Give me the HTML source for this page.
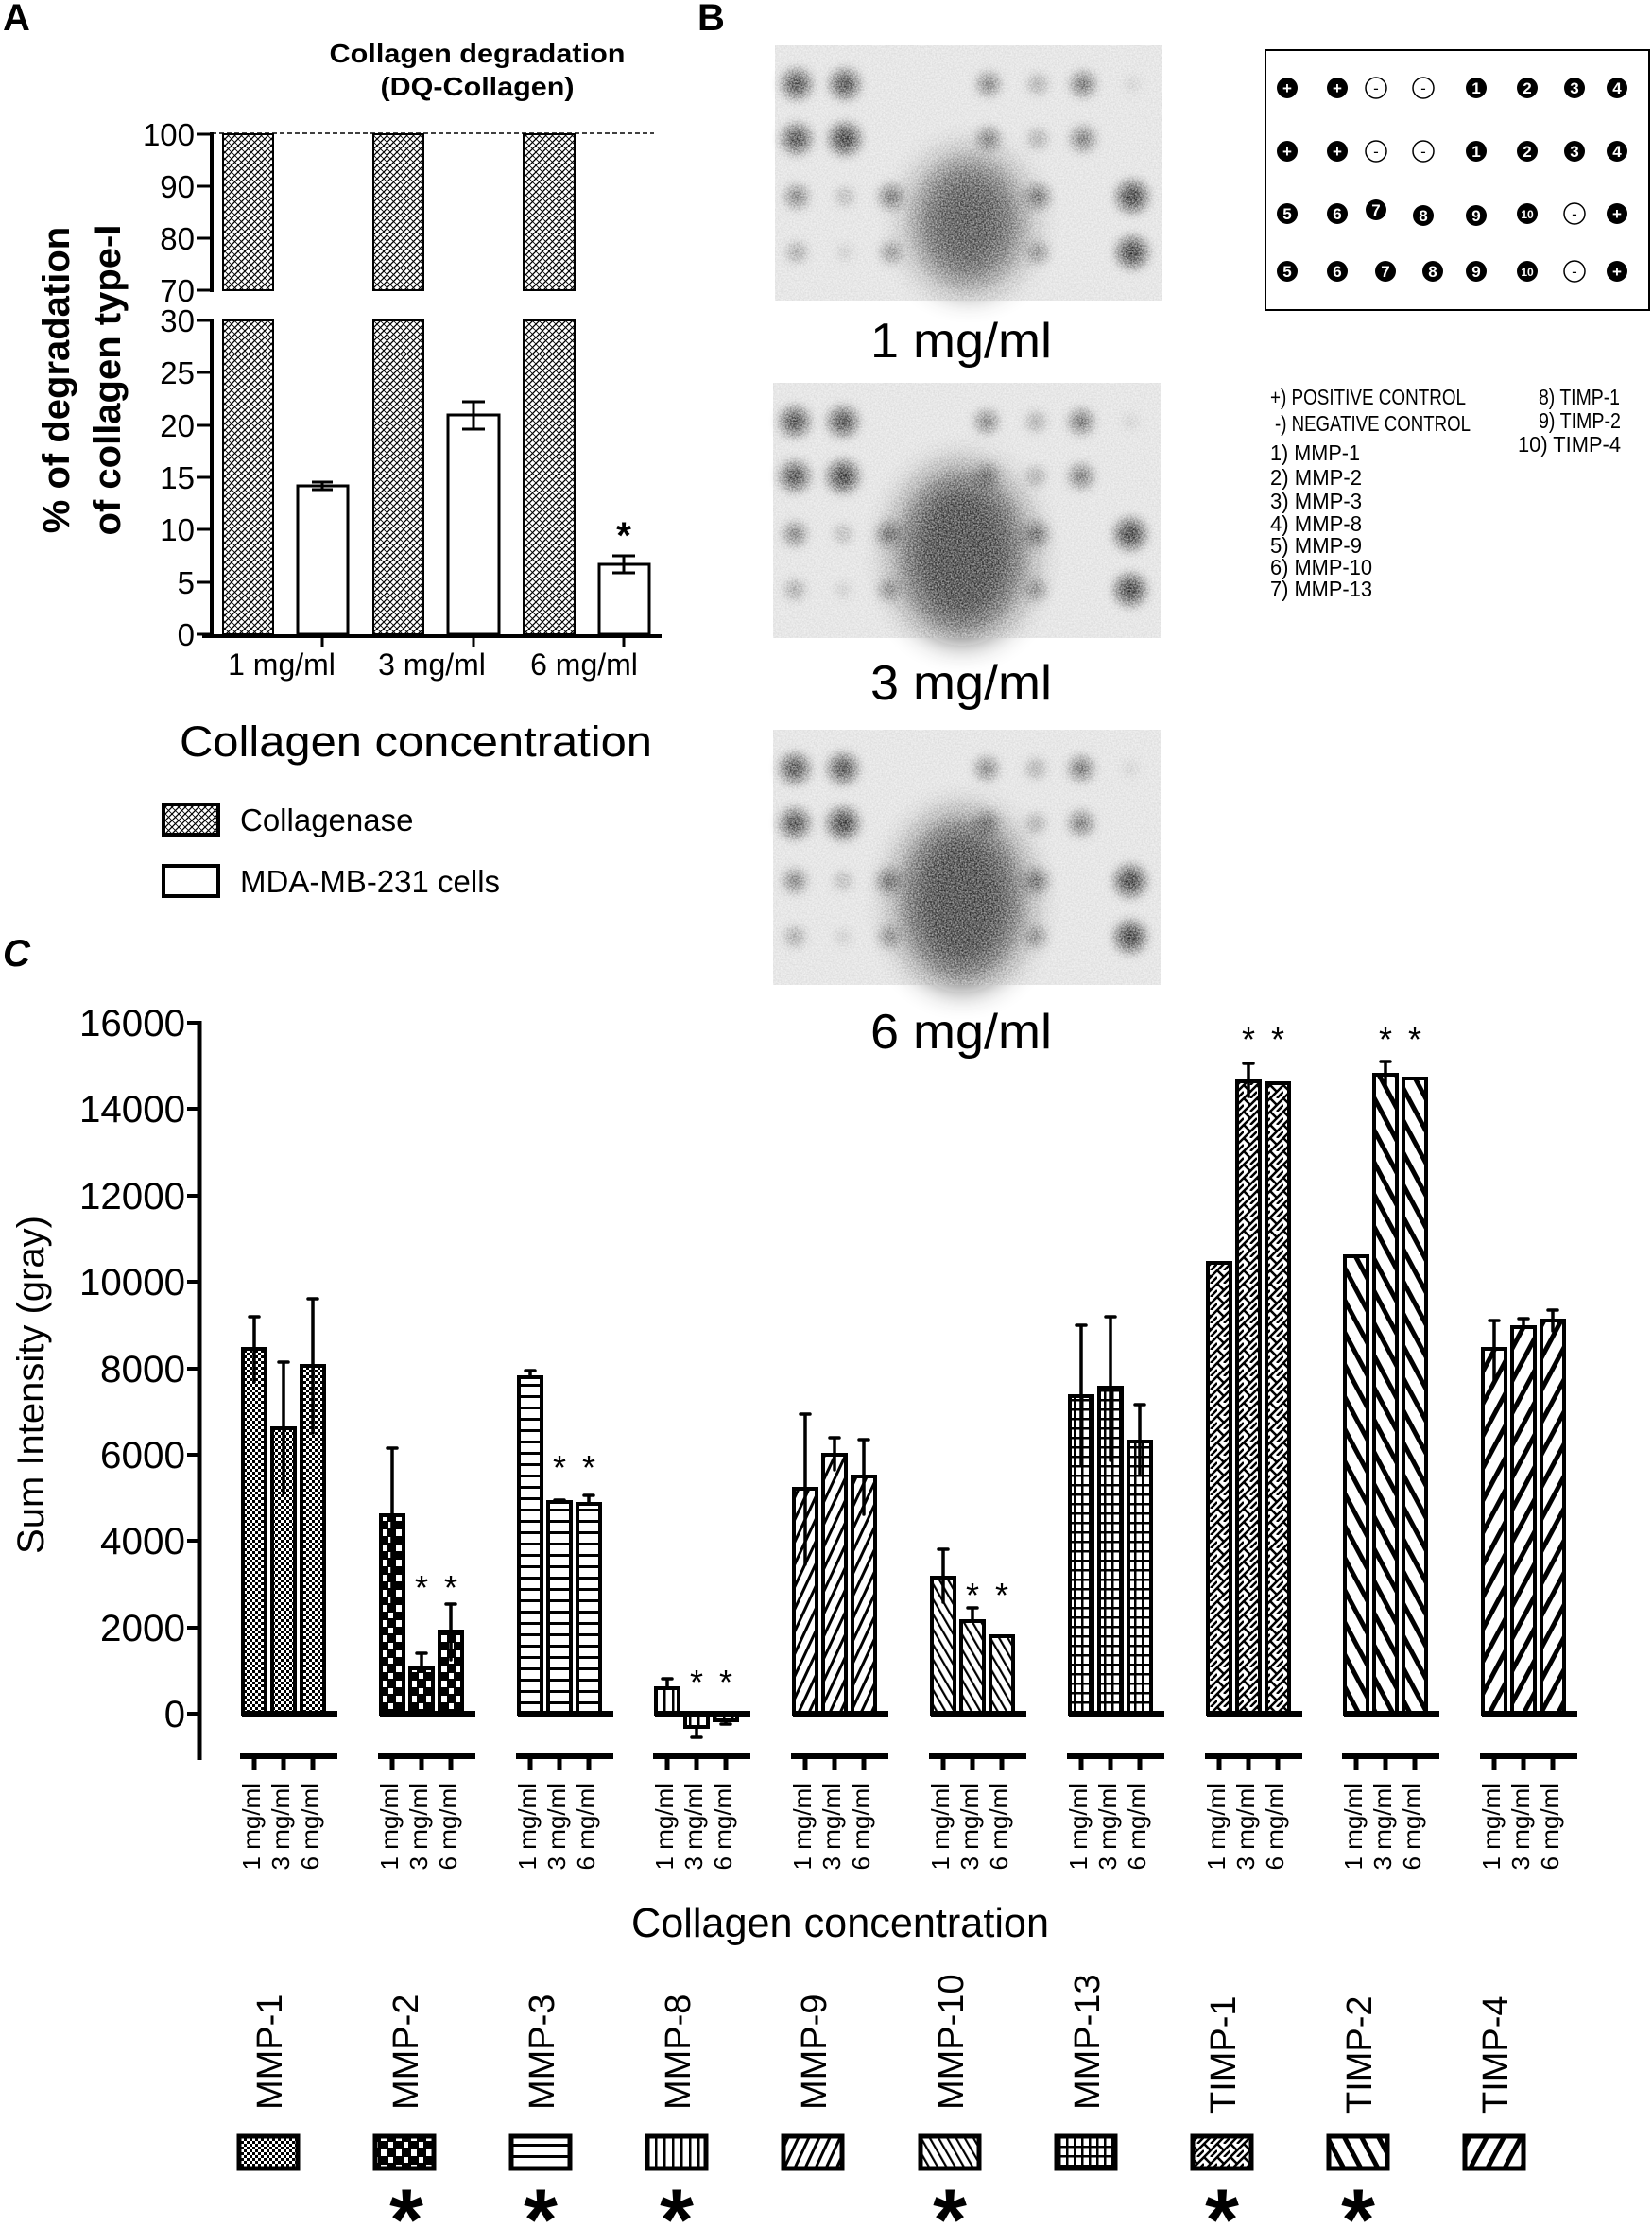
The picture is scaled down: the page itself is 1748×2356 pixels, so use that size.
<!DOCTYPE html>
<html><head><meta charset="utf-8"><style>html,body{margin:0;padding:0;background:#fff}svg{display:block}</style></head><body>
<svg width="1748" height="2356" viewBox="0 0 1748 2356" xmlns="http://www.w3.org/2000/svg" font-family="Liberation Sans, Arial, sans-serif">
<defs>
<pattern id="pA" width="7" height="7" patternUnits="userSpaceOnUse"><rect width="7" height="7" fill="#fff"/><path d="M0 7L7 0M-1 1L1 -1M6 8L8 6" stroke="#000" stroke-width="1.3"/><path d="M0 0L7 7" stroke="#000" stroke-width="0.8"/></pattern>
<pattern id="p1" width="6" height="6" patternUnits="userSpaceOnUse"><rect width="6" height="6" fill="#fff"/><rect width="3" height="3" fill="#000"/><rect x="3" y="3" width="3" height="3" fill="#000"/></pattern>
<pattern id="p2" width="16" height="16" patternUnits="userSpaceOnUse"><rect width="16" height="16" fill="#000"/><rect x="3" y="2" width="6" height="7" fill="#fff"/><rect x="11" y="10" width="5" height="6" fill="#fff"/></pattern>
<pattern id="p3" width="10" height="12" patternUnits="userSpaceOnUse"><rect width="10" height="12" fill="#fff"/><rect y="0" width="10" height="3" fill="#000"/></pattern>
<pattern id="p8" width="9" height="10" patternUnits="userSpaceOnUse"><rect width="9" height="10" fill="#fff"/><rect x="0" width="2.5" height="10" fill="#000"/></pattern>
<pattern id="p9" width="10" height="10" patternUnits="userSpaceOnUse" patternTransform="rotate(25)"><rect width="10" height="10" fill="#fff"/><rect width="3" height="10" fill="#000"/></pattern>
<pattern id="p10" width="8" height="8" patternUnits="userSpaceOnUse" patternTransform="rotate(-30)"><rect width="8" height="8" fill="#fff"/><rect width="2.2" height="8" fill="#000"/></pattern>
<pattern id="p13" width="8" height="10" patternUnits="userSpaceOnUse"><rect width="8" height="10" fill="#fff"/><rect width="2.5" height="10" fill="#000"/><rect width="8" height="2.5" fill="#000"/></pattern>
<pattern id="pT1" width="14" height="14" patternUnits="userSpaceOnUse"><rect width="14" height="14" fill="#fff"/><path d="M0 14L14 0M-2 2L2 -2M12 16L16 12" stroke="#000" stroke-width="2.5"/><path d="M0 0L7 7M7 14L14 7" stroke="#000" stroke-width="2.5"/></pattern>
<pattern id="pT2" width="16" height="16" patternUnits="userSpaceOnUse" patternTransform="rotate(-28)"><rect width="16" height="16" fill="#fff"/><rect width="5" height="16" fill="#000"/></pattern>
<pattern id="pT4" width="16" height="16" patternUnits="userSpaceOnUse" patternTransform="rotate(28)"><rect width="16" height="16" fill="#fff"/><rect width="5" height="16" fill="#000"/></pattern>
<filter id="grain" x="0" y="0" width="100%" height="100%"><feTurbulence type="fractalNoise" baseFrequency="0.6" numOctaves="2" seed="3"/><feColorMatrix type="matrix" values="0 0 0 0 1  0 0 0 0 1  0 0 0 0 1  0 0 0 -2 1.5"/></filter>
<filter id="bl" x="-50%" y="-50%" width="200%" height="200%"><feGaussianBlur stdDeviation="6"/></filter>
<filter id="bl2" x="-50%" y="-50%" width="200%" height="200%"><feGaussianBlur stdDeviation="18"/></filter>
<g id="spots">
<rect width="410" height="270" fill="#dedede"/>
<g filter="url(#bl)" fill="#111">
<circle cx="23" cy="41" r="14" opacity="0.85"/><circle cx="74" cy="41" r="14" opacity="0.85"/><circle cx="226" cy="41" r="10" opacity="0.7"/><circle cx="278" cy="41" r="8" opacity="0.5"/><circle cx="326" cy="41" r="11" opacity="0.75"/><circle cx="378" cy="41" r="6" opacity="0.2"/>
<circle cx="23" cy="99" r="14" opacity="0.85"/><circle cx="74" cy="99" r="15" opacity="0.9"/><circle cx="226" cy="99" r="10" opacity="0.7"/><circle cx="278" cy="99" r="8" opacity="0.5"/><circle cx="326" cy="99" r="11" opacity="0.7"/>
<circle cx="23" cy="160" r="10" opacity="0.7"/><circle cx="74" cy="160" r="7" opacity="0.45"/><circle cx="123" cy="160" r="11" opacity="0.7"/><circle cx="278" cy="160" r="11" opacity="0.7"/><circle cx="378" cy="160" r="15" opacity="0.9"/>
<circle cx="23" cy="219" r="8" opacity="0.55"/><circle cx="74" cy="219" r="6" opacity="0.25"/><circle cx="123" cy="219" r="9" opacity="0.6"/><circle cx="278" cy="219" r="9" opacity="0.6"/><circle cx="378" cy="219" r="15" opacity="0.9"/>
</g></g>
<rect id="gr" width="410" height="270" fill="#fff" filter="url(#grain)" opacity="0.55"/>
</defs>
<rect width="1748" height="2356" fill="#fff"/>

<!-- Panel letters -->
<text x="3" y="32" font-size="40" font-weight="bold">A</text>
<text x="738" y="32" font-size="40" font-weight="bold">B</text>
<text x="3" y="1022" font-size="40" font-weight="bold" font-style="italic">C</text>

<!-- Panel A -->
<text x="505" y="66" font-size="28" font-weight="bold" text-anchor="middle" textLength="313" lengthAdjust="spacingAndGlyphs">Collagen degradation</text>
<text x="505" y="101" font-size="28" font-weight="bold" text-anchor="middle" textLength="205" lengthAdjust="spacingAndGlyphs">(DQ-Collagen)</text>
<text transform="translate(73,402) rotate(-90)" font-size="40" font-weight="bold" text-anchor="middle">% of degradation</text>
<text transform="translate(127,402) rotate(-90)" font-size="40" font-weight="bold" text-anchor="middle">of collagen type-I</text>
<line x1="224" y1="141" x2="692" y2="141" stroke="#000" stroke-width="1.5" stroke-dasharray="5,3"/>
<g fill="url(#pA)" stroke="#000" stroke-width="2">
<rect x="236" y="142" width="53" height="165"/><rect x="395" y="142" width="53" height="165"/><rect x="554" y="142" width="54" height="165"/>
<rect x="236" y="339" width="53" height="332"/><rect x="395" y="339" width="53" height="332"/><rect x="554" y="339" width="54" height="332"/>
</g>
<g fill="#fff" stroke="#000" stroke-width="3">
<rect x="315" y="514" width="53" height="157"/><rect x="474" y="439" width="54" height="232"/><rect x="634" y="597" width="53" height="74"/>
</g>
<g stroke="#000" stroke-width="3">
<line x1="341" y1="510" x2="341" y2="518"/><line x1="330" y1="510" x2="352" y2="510"/><line x1="330" y1="518" x2="352" y2="518"/>
<line x1="501" y1="425" x2="501" y2="454"/><line x1="489" y1="425" x2="513" y2="425"/><line x1="489" y1="454" x2="513" y2="454"/>
<line x1="660" y1="588" x2="660" y2="606"/><line x1="648" y1="588" x2="672" y2="588"/><line x1="648" y1="606" x2="672" y2="606"/>
</g>
<text x="660" y="580" font-size="40" font-weight="bold" text-anchor="middle">*</text>
<g stroke="#000" stroke-width="4" fill="none">
<line x1="224" y1="140" x2="224" y2="309"/><line x1="224" y1="337" x2="224" y2="673"/>
<line x1="214" y1="673" x2="700" y2="673"/>
</g>
<g stroke="#000" stroke-width="3">
<line x1="208" y1="142" x2="224" y2="142"/><line x1="208" y1="197" x2="224" y2="197"/><line x1="208" y1="252" x2="224" y2="252"/><line x1="208" y1="307" x2="224" y2="307"/>
<line x1="208" y1="339" x2="224" y2="339"/><line x1="208" y1="394" x2="224" y2="394"/><line x1="208" y1="450" x2="224" y2="450"/><line x1="208" y1="505" x2="224" y2="505"/><line x1="208" y1="560" x2="224" y2="560"/><line x1="208" y1="616" x2="224" y2="616"/><line x1="208" y1="671" x2="224" y2="671"/>
<line x1="341" y1="673" x2="341" y2="684"/><line x1="501" y1="673" x2="501" y2="684"/><line x1="660" y1="673" x2="660" y2="684"/>
</g>
<g font-size="33" text-anchor="end">
<text x="206" y="154">100</text><text x="206" y="209">90</text><text x="206" y="264">80</text><text x="206" y="319">70</text>
<text x="206" y="351">30</text><text x="206" y="406">25</text><text x="206" y="462">20</text><text x="206" y="517">15</text><text x="206" y="572">10</text><text x="206" y="628">5</text><text x="206" y="683">0</text>
</g>
<g font-size="32" text-anchor="middle">
<text x="298" y="714">1 mg/ml</text><text x="457" y="714">3 mg/ml</text><text x="618" y="714">6 mg/ml</text>
</g>
<text x="440" y="800" font-size="45" text-anchor="middle" textLength="500" lengthAdjust="spacingAndGlyphs">Collagen concentration</text>
<rect x="173" y="851" width="58" height="32" fill="url(#pA)" stroke="#000" stroke-width="4"/>
<rect x="173" y="916" width="58" height="32" fill="#fff" stroke="#000" stroke-width="4"/>
<text x="254" y="879" font-size="33">Collagenase</text>
<text x="254" y="944" font-size="33">MDA-MB-231 cells</text>

<!-- Panel B blots -->
<use href="#spots" x="820" y="48"/>
<ellipse cx="1025" cy="235" rx="58" ry="68" fill="#1a1a1a" filter="url(#bl2)" opacity="0.85"/>
<use href="#gr" x="820" y="48"/>
<use href="#spots" x="818" y="405"/>
<ellipse cx="1018" cy="585" rx="68" ry="88" fill="#151515" filter="url(#bl2)" opacity="0.9"/>
<use href="#gr" x="818" y="405"/>
<use href="#spots" x="818" y="772"/>
<ellipse cx="1018" cy="952" rx="66" ry="88" fill="#151515" filter="url(#bl2)" opacity="0.9"/>
<use href="#gr" x="818" y="772"/>
<g font-size="52" text-anchor="middle">
<text x="1017" y="378" textLength="192" lengthAdjust="spacingAndGlyphs">1 mg/ml</text>
<text x="1017" y="740" textLength="192" lengthAdjust="spacingAndGlyphs">3 mg/ml</text>
<text x="1017" y="1109" textLength="192" lengthAdjust="spacingAndGlyphs">6 mg/ml</text>
</g>
<!-- Key -->
<rect x="1339" y="53" width="406" height="275" fill="#fff" stroke="#000" stroke-width="2"/>
<g font-size="17" font-weight="bold" text-anchor="middle">
<g fill="#000">
<circle cx="1362" cy="93" r="11"/><circle cx="1415" cy="93" r="11"/><circle cx="1562" cy="93" r="11"/><circle cx="1616" cy="93" r="11"/><circle cx="1666" cy="93" r="11"/><circle cx="1711" cy="93" r="11"/>
<circle cx="1362" cy="160" r="11"/><circle cx="1415" cy="160" r="11"/><circle cx="1562" cy="160" r="11"/><circle cx="1616" cy="160" r="11"/><circle cx="1666" cy="160" r="11"/><circle cx="1711" cy="160" r="11"/>
<circle cx="1362" cy="226" r="11"/><circle cx="1415" cy="226" r="11"/><circle cx="1456" cy="222" r="11"/><circle cx="1506" cy="228" r="11"/><circle cx="1562" cy="228" r="11"/><circle cx="1616" cy="226" r="11"/><circle cx="1711" cy="226" r="11"/>
<circle cx="1362" cy="287" r="11"/><circle cx="1415" cy="287" r="11"/><circle cx="1466" cy="287" r="11"/><circle cx="1516" cy="287" r="11"/><circle cx="1562" cy="287" r="11"/><circle cx="1616" cy="287" r="11"/><circle cx="1711" cy="287" r="11"/>
</g>
<g fill="#fff" stroke="#000" stroke-width="1.5">
<circle cx="1456" cy="93" r="11"/><circle cx="1506" cy="93" r="11"/><circle cx="1456" cy="160" r="11"/><circle cx="1506" cy="160" r="11"/><circle cx="1666" cy="226" r="11"/><circle cx="1666" cy="287" r="11"/>
</g>
<g fill="#fff">
<text x="1362" y="99">+</text><text x="1415" y="99">+</text><text x="1562" y="99">1</text><text x="1616" y="99">2</text><text x="1666" y="99">3</text><text x="1711" y="99">4</text>
<text x="1362" y="166">+</text><text x="1415" y="166">+</text><text x="1562" y="166">1</text><text x="1616" y="166">2</text><text x="1666" y="166">3</text><text x="1711" y="166">4</text>
<text x="1362" y="232">5</text><text x="1415" y="232">6</text><text x="1456" y="228">7</text><text x="1506" y="234">8</text><text x="1562" y="234">9</text><text x="1616" y="231" font-size="12">10</text><text x="1711" y="232">+</text>
<text x="1362" y="293">5</text><text x="1415" y="293">6</text><text x="1466" y="293">7</text><text x="1516" y="293">8</text><text x="1562" y="293">9</text><text x="1616" y="292" font-size="12">10</text><text x="1711" y="293">+</text>
</g>
<g fill="#000" font-weight="normal">
<text x="1456" y="99">-</text><text x="1506" y="99">-</text><text x="1456" y="166">-</text><text x="1506" y="166">-</text><text x="1666" y="232">-</text><text x="1666" y="293">-</text>
</g>
</g>
<g font-size="23">
<text x="1344" y="428" textLength="207" lengthAdjust="spacingAndGlyphs">+)  POSITIVE CONTROL</text>
<text x="1349" y="456" textLength="207" lengthAdjust="spacingAndGlyphs">-)   NEGATIVE CONTROL</text>
<text x="1344" y="487" textLength="95" lengthAdjust="spacingAndGlyphs">1)   MMP-1</text>
<text x="1344" y="513" textLength="97" lengthAdjust="spacingAndGlyphs">2)   MMP-2</text>
<text x="1344" y="538" textLength="97" lengthAdjust="spacingAndGlyphs">3)   MMP-3</text>
<text x="1344" y="562" textLength="97" lengthAdjust="spacingAndGlyphs">4)   MMP-8</text>
<text x="1344" y="585" textLength="97" lengthAdjust="spacingAndGlyphs">5)   MMP-9</text>
<text x="1344" y="608" textLength="108" lengthAdjust="spacingAndGlyphs">6)   MMP-10</text>
<text x="1344" y="631" textLength="108" lengthAdjust="spacingAndGlyphs">7)   MMP-13</text>
<text x="1628" y="428" textLength="86" lengthAdjust="spacingAndGlyphs">8)   TIMP-1</text>
<text x="1628" y="453" textLength="87" lengthAdjust="spacingAndGlyphs">9)   TIMP-2</text>
<text x="1606" y="478" textLength="109" lengthAdjust="spacingAndGlyphs">10)   TIMP-4</text>
</g>

<!-- Panel C -->
<text transform="translate(46,1465) rotate(-90)" font-size="40" text-anchor="middle">Sum Intensity (gray)</text>
<g font-size="40" text-anchor="end">
<text x="196" y="1096" textLength="112" lengthAdjust="spacingAndGlyphs">16000</text><text x="196" y="1187" textLength="112" lengthAdjust="spacingAndGlyphs">14000</text><text x="196" y="1279" textLength="112" lengthAdjust="spacingAndGlyphs">12000</text><text x="196" y="1370" textLength="112" lengthAdjust="spacingAndGlyphs">10000</text><text x="196" y="1462" textLength="90" lengthAdjust="spacingAndGlyphs">8000</text><text x="196" y="1553" textLength="90" lengthAdjust="spacingAndGlyphs">6000</text><text x="196" y="1644" textLength="90" lengthAdjust="spacingAndGlyphs">4000</text><text x="196" y="1736" textLength="90" lengthAdjust="spacingAndGlyphs">2000</text><text x="196" y="1827">0</text>
</g>
<g stroke="#000" stroke-width="4">
<line x1="211" y1="1080" x2="211" y2="1862" stroke-width="5"/>
<line x1="198" y1="1082" x2="211" y2="1082"/><line x1="198" y1="1173" x2="211" y2="1173"/><line x1="198" y1="1265" x2="211" y2="1265"/><line x1="198" y1="1356" x2="211" y2="1356"/><line x1="198" y1="1448" x2="211" y2="1448"/><line x1="198" y1="1539" x2="211" y2="1539"/><line x1="198" y1="1630" x2="211" y2="1630"/><line x1="198" y1="1722" x2="211" y2="1722"/><line x1="198" y1="1813" x2="211" y2="1813"/>
</g>
<!-- bars -->
<g stroke="#000" stroke-width="4">
<rect x="257" y="1427" width="24" height="386" fill="url(#p1)"/><rect x="288" y="1511" width="24" height="302" fill="url(#p1)"/><rect x="319" y="1445" width="24" height="368" fill="url(#p1)"/>
<rect x="403" y="1603" width="24" height="210" fill="url(#p2)"/><rect x="434" y="1765" width="24" height="48" fill="url(#p2)"/><rect x="465" y="1726" width="24" height="87" fill="url(#p2)"/>
<rect x="549" y="1457" width="24" height="356" fill="url(#p3)"/><rect x="580" y="1589" width="24" height="224" fill="url(#p3)"/><rect x="611" y="1591" width="24" height="222" fill="url(#p3)"/>
<rect x="694" y="1786" width="24" height="27" fill="url(#p8)"/><rect x="725" y="1813" width="24" height="14" fill="url(#p8)"/><rect x="756" y="1813" width="24" height="7" fill="url(#p8)"/>
<rect x="840" y="1575" width="24" height="238" fill="url(#p9)"/><rect x="871" y="1539" width="24" height="274" fill="url(#p9)"/><rect x="902" y="1562" width="24" height="251" fill="url(#p9)"/>
<rect x="986" y="1669" width="24" height="144" fill="url(#p10)"/><rect x="1017" y="1715" width="24" height="98" fill="url(#p10)"/><rect x="1048" y="1731" width="24" height="82" fill="url(#p10)"/>
<rect x="1132" y="1477" width="24" height="336" fill="url(#p13)"/><rect x="1163" y="1468" width="24" height="345" fill="url(#p13)"/><rect x="1194" y="1525" width="24" height="288" fill="url(#p13)"/>
<rect x="1278" y="1336" width="24" height="477" fill="url(#pT1)"/><rect x="1309" y="1144" width="24" height="669" fill="url(#pT1)"/><rect x="1340" y="1146" width="24" height="667" fill="url(#pT1)"/>
<rect x="1423" y="1329" width="24" height="484" fill="url(#pT2)"/><rect x="1454" y="1137" width="24" height="676" fill="url(#pT2)"/><rect x="1485" y="1141" width="24" height="672" fill="url(#pT2)"/>
<rect x="1569" y="1427" width="24" height="386" fill="url(#pT4)"/><rect x="1600" y="1404" width="24" height="409" fill="url(#pT4)"/><rect x="1631" y="1397" width="24" height="416" fill="url(#pT4)"/>
</g>
<!-- error bars -->
<g stroke="#000" stroke-width="3.5" stroke-linecap="round">
<path d="M269 1462V1393M264 1393h10M300 1580V1441M295 1441h10M331 1516V1374M326 1374h10"/>
<path d="M415 1700V1532M410 1532h10M446 1765V1749M441 1749h10M477 1756V1697M472 1697h10"/>
<path d="M561 1457V1450M556 1450h10M587 1587h10M623 1591V1582M618 1582h10"/>
<path d="M706 1786V1776M701 1776h10M737 1827V1838M732 1838h10M768 1820V1824M763 1824h10"/>
<path d="M852 1655V1496M847 1496h10M883 1555V1521M878 1521h10M914 1602V1523M909 1523h10"/>
<path d="M998 1695V1639M993 1639h10M1029 1715V1701M1024 1701h10M1055 1731h10"/>
<path d="M1144 1550V1402M1139 1402h10M1175 1545V1393M1170 1393h10M1206 1560V1486M1201 1486h10"/>
<path d="M1285 1336h10M1321 1160V1125M1316 1125h10M1347 1146h10"/>
<path d="M1430 1329h10M1466 1150V1123M1461 1123h10M1492 1141h10"/>
<path d="M1581 1460V1397M1576 1397h10M1612 1404V1395M1607 1395h10M1643 1408V1386M1638 1386h10"/>
</g>
<!-- zero & bottom axis segments -->
<g stroke="#000" stroke-width="6">
<path d="M256 1813H357M402 1813H503M548 1813H649M693 1813H794M839 1813H940M985 1813H1086M1131 1813H1232M1277 1813H1378M1422 1813H1523M1568 1813H1669"/>
<path d="M254 1858H357M400 1858H503M546 1858H649M691 1858H794M837 1858H940M983 1858H1086M1129 1858H1232M1275 1858H1378M1420 1858H1523M1566 1858H1669"/>
</g>
<g stroke="#000" stroke-width="5">
<path d="M269 1858v15M300 1858v15M331 1858v15M415 1858v15M446 1858v15M477 1858v15M561 1858v15M592 1858v15M623 1858v15M706 1858v15M737 1858v15M768 1858v15M852 1858v15M883 1858v15M914 1858v15M998 1858v15M1029 1858v15M1060 1858v15M1144 1858v15M1175 1858v15M1206 1858v15M1290 1858v15M1321 1858v15M1352 1858v15M1435 1858v15M1466 1858v15M1497 1858v15M1581 1858v15M1612 1858v15M1643 1858v15"/>
</g>
<!-- stars -->
<g font-size="36" text-anchor="middle">
<text x="446" y="1692">*</text><text x="477" y="1692">*</text>
<text x="592" y="1565">*</text><text x="623" y="1565">*</text>
<text x="737" y="1792">*</text><text x="768" y="1792">*</text>
<text x="1029" y="1700">*</text><text x="1060" y="1700">*</text>
<text x="1321" y="1112">*</text><text x="1352" y="1112">*</text>
<text x="1466" y="1112">*</text><text x="1497" y="1112">*</text>
</g>
<!-- rotated x labels -->
<g font-size="26" text-anchor="end">
<text transform="translate(275,1886) rotate(-90)">1 mg/ml</text><text transform="translate(306,1886) rotate(-90)">3 mg/ml</text><text transform="translate(337,1886) rotate(-90)">6 mg/ml</text>
<text transform="translate(421,1886) rotate(-90)">1 mg/ml</text><text transform="translate(452,1886) rotate(-90)">3 mg/ml</text><text transform="translate(483,1886) rotate(-90)">6 mg/ml</text>
<text transform="translate(567,1886) rotate(-90)">1 mg/ml</text><text transform="translate(598,1886) rotate(-90)">3 mg/ml</text><text transform="translate(629,1886) rotate(-90)">6 mg/ml</text>
<text transform="translate(712,1886) rotate(-90)">1 mg/ml</text><text transform="translate(743,1886) rotate(-90)">3 mg/ml</text><text transform="translate(774,1886) rotate(-90)">6 mg/ml</text>
<text transform="translate(858,1886) rotate(-90)">1 mg/ml</text><text transform="translate(889,1886) rotate(-90)">3 mg/ml</text><text transform="translate(920,1886) rotate(-90)">6 mg/ml</text>
<text transform="translate(1004,1886) rotate(-90)">1 mg/ml</text><text transform="translate(1035,1886) rotate(-90)">3 mg/ml</text><text transform="translate(1066,1886) rotate(-90)">6 mg/ml</text>
<text transform="translate(1150,1886) rotate(-90)">1 mg/ml</text><text transform="translate(1181,1886) rotate(-90)">3 mg/ml</text><text transform="translate(1212,1886) rotate(-90)">6 mg/ml</text>
<text transform="translate(1296,1886) rotate(-90)">1 mg/ml</text><text transform="translate(1327,1886) rotate(-90)">3 mg/ml</text><text transform="translate(1358,1886) rotate(-90)">6 mg/ml</text>
<text transform="translate(1441,1886) rotate(-90)">1 mg/ml</text><text transform="translate(1472,1886) rotate(-90)">3 mg/ml</text><text transform="translate(1503,1886) rotate(-90)">6 mg/ml</text>
<text transform="translate(1587,1886) rotate(-90)">1 mg/ml</text><text transform="translate(1618,1886) rotate(-90)">3 mg/ml</text><text transform="translate(1649,1886) rotate(-90)">6 mg/ml</text>
</g>
<text x="889" y="2049" font-size="44" text-anchor="middle" textLength="442" lengthAdjust="spacingAndGlyphs">Collagen concentration</text>
<!-- legend C -->
<g font-size="38">
<text transform="translate(298,2232) rotate(-90)">MMP-1</text>
<text transform="translate(442,2232) rotate(-90)">MMP-2</text>
<text transform="translate(586,2232) rotate(-90)">MMP-3</text>
<text transform="translate(730,2232) rotate(-90)">MMP-8</text>
<text transform="translate(874,2232) rotate(-90)">MMP-9</text>
<text transform="translate(1019,2232) rotate(-90)">MMP-10</text>
<text transform="translate(1163,2232) rotate(-90)">MMP-13</text>
<text transform="translate(1307,2236) rotate(-90)">TIMP-1</text>
<text transform="translate(1451,2236) rotate(-90)">TIMP-2</text>
<text transform="translate(1595,2236) rotate(-90)">TIMP-4</text>
</g>
<g stroke="#000" stroke-width="5">
<rect x="253" y="2260" width="62" height="34" fill="url(#p1)"/>
<rect x="397" y="2260" width="62" height="34" fill="url(#p2)"/>
<rect x="541" y="2260" width="62" height="34" fill="url(#p3)"/>
<rect x="685" y="2260" width="62" height="34" fill="url(#p8)"/>
<rect x="829" y="2260" width="62" height="34" fill="url(#p9)"/>
<rect x="974" y="2260" width="62" height="34" fill="url(#p10)"/>
<rect x="1118" y="2260" width="62" height="34" fill="url(#p13)"/>
<rect x="1262" y="2260" width="62" height="34" fill="url(#pT1)"/>
<rect x="1406" y="2260" width="62" height="34" fill="url(#pT2)"/>
<rect x="1550" y="2260" width="62" height="34" fill="url(#pT4)"/>
</g>
<g font-size="92" font-weight="bold" text-anchor="middle">
<text x="430" y="2380">*</text><text x="572" y="2380">*</text><text x="716" y="2380">*</text><text x="1005" y="2380">*</text><text x="1293" y="2380">*</text><text x="1437" y="2380">*</text>
</g>
</svg>
</body></html>
